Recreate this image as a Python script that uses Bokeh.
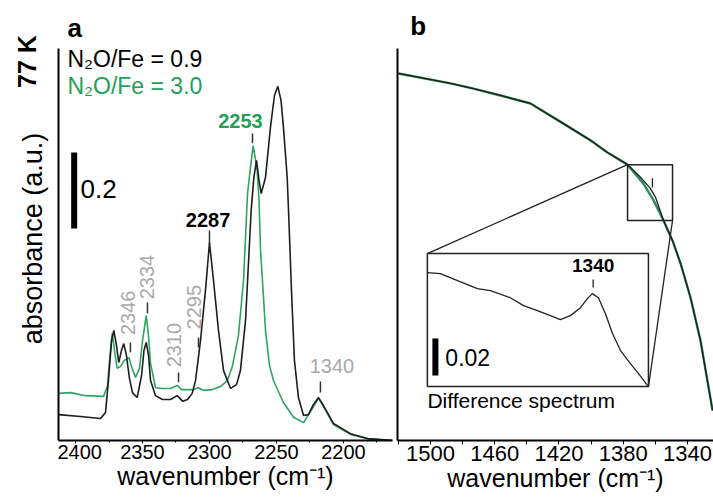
import math
from bokeh.plotting import figure
from bokeh.layouts import row
from bokeh.models import Range1d, Label, FixedTicker
from bokeh.embed import file_html
from bokeh.resources import INLINE

FONT = "Liberation Sans"
BLACK = "#1e1e1e"
GREEN = "#2fa461"
GREEN_TXT = "#22a056"
GRAY_TXT = "#a9a9a9"

# ---------------- panel a data (wavenumber cm-1, absorbance) ----------------
black_wn = [2412.7, 2396.3, 2381.3, 2377.6, 2375.4, 2373.1, 2371.4, 2369.4, 2367.7, 2365.7,
            2364.0, 2362.0, 2359.7, 2357.5, 2354.0, 2350.7, 2348.9, 2347.2, 2345.5, 2344.0,
            2340.3, 2335.1, 2329.1, 2324.1, 2319.9, 2316.4, 2312.9, 2310.4, 2306.7, 2302.8,
            2300.0, 2297.0, 2293.3, 2289.5, 2284.3, 2279.8, 2276.9, 2273.1, 2268.9, 2266.9,
            2264.9, 2263.0, 2261.4, 2258.2, 2254.5, 2251.5, 2249.0, 2246.6, 2244.8, 2242.0,
            2241.0, 2238.8, 2236.6, 2233.6, 2229.8, 2226.1, 2222.4, 2218.6, 2214.9, 2207.5,
            2194.8, 2182.1, 2163.4]
black_abs = [0.068, 0.063, 0.058, 0.074, 0.158, 0.263, 0.290, 0.250, 0.205, 0.237,
             0.255, 0.224, 0.163, 0.126, 0.113, 0.171, 0.237, 0.258, 0.224, 0.158,
             0.118, 0.108, 0.108, 0.118, 0.103, 0.108, 0.124, 0.158, 0.263, 0.403,
             0.521, 0.421, 0.290, 0.184, 0.137, 0.147, 0.184, 0.316, 0.605, 0.692,
             0.737, 0.684, 0.650, 0.692, 0.824, 0.908, 0.932, 0.895, 0.824, 0.692,
             0.605, 0.395, 0.211, 0.113, 0.066, 0.068, 0.095, 0.113, 0.092, 0.045,
             0.018, 0.005, 0.0]

green_wn = [2412.7, 2403.7, 2392.5, 2379.1, 2376.1, 2374.3, 2372.6, 2370.9, 2368.9, 2366.4,
            2363.4, 2360.2, 2357.8, 2355.2, 2352.2, 2350.0, 2347.2, 2345.5, 2344.0, 2340.3,
            2335.3, 2329.1, 2324.1, 2320.9, 2316.7, 2312.0, 2308.2, 2304.5, 2297.8, 2291.8,
            2286.6, 2282.8, 2278.4, 2274.6, 2271.6, 2269.4, 2267.4, 2264.4, 2263.0, 2261.9,
            2260.0, 2258.2, 2255.2, 2252.2, 2244.8, 2237.3, 2229.8, 2224.6, 2218.6, 2214.9,
            2207.5, 2194.8, 2182.1, 2163.4]
green_abs = [0.124, 0.126, 0.118, 0.116, 0.145, 0.224, 0.282, 0.237, 0.190, 0.195,
             0.211, 0.218, 0.190, 0.166, 0.190, 0.263, 0.329, 0.276, 0.203, 0.139,
             0.137, 0.137, 0.145, 0.134, 0.134, 0.134, 0.139, 0.132, 0.134, 0.142,
             0.158, 0.197, 0.276, 0.421, 0.650, 0.719, 0.776, 0.711, 0.632, 0.500,
             0.395, 0.290, 0.197, 0.158, 0.100, 0.061, 0.047, 0.076, 0.111, 0.089,
             0.042, 0.016, 0.005, 0.0]

series_labels = ["N\u2082O/Fe = 0.9", "N\u2082O/Fe = 3.0"]
gray_peak_texts = ["2346", "2334", "2310", "2295"]
a_ticks = [2400, 2350, 2300, 2250, 2200]
a_minor = [2375, 2325, 2275, 2225, 2175]
scale_a = 0.2

# ---------------- panel b data ----------------
b_black_wn = [1519.9, 1487.5, 1473.2, 1456.4, 1437.7, 1417.2, 1400.4, 1389.8, 1377.3, 1368.6,
              1363.0, 1359.9, 1354.9, 1349.3, 1344.3, 1338.1, 1331.9, 1324.4]
b_black_abs = [0.966, 0.940, 0.926, 0.908, 0.887, 0.834, 0.790, 0.758, 0.726, 0.690,
               0.663, 0.640, 0.579, 0.526, 0.466, 0.376, 0.263, 0.079]
b_green_wn = [1519.9, 1487.5, 1473.2, 1456.4, 1437.7, 1417.2, 1400.4, 1389.8, 1377.3, 1367.4,
              1361.1, 1354.9, 1349.3, 1344.3, 1338.1, 1331.9, 1324.4]
b_green_abs = [0.966, 0.940, 0.926, 0.908, 0.887, 0.834, 0.790, 0.758, 0.726, 0.676,
               0.632, 0.579, 0.526, 0.466, 0.376, 0.263, 0.079]
b_ticks = [1500, 1460, 1420, 1380, 1340]
b_minor = [1520, 1480, 1440, 1400, 1360, 1320]

diff_wn = [1400.0, 1395.3, 1389.1, 1381.9, 1377.2, 1370.0, 1365.2, 1360.2, 1355.5, 1351.9,
           1348.2, 1344.6, 1342.1, 1340.3, 1338.1, 1335.6, 1333.0, 1330.1, 1326.5, 1323.6, 1320.0]
diff_abs = [0.0617, 0.0611, 0.0573, 0.0530, 0.0519, 0.0481, 0.0438, 0.0411, 0.0384, 0.0362,
            0.0384, 0.0427, 0.0476, 0.0503, 0.0481, 0.0395, 0.0287, 0.0195, 0.0124, 0.0070, 0.0]
scale_b = 0.02

# ---------------- layout constants ----------------
XA = (2412.7, 2163.4)
XB = (1520.5, 1323.8)
Y_AXIS = (0.0, 1.032)                             # drawn extent of the y axes
YR = (0.0, 1.158)                                 # frame range (room for panel letters)
ZOOM_BOX = (1377.3, 1349.3, 0.579, 0.726)         # main coords of panel b
INSET_MAIN = (1501.9, 1364.3, 0.142, 0.492)       # where the inset sits (main coords)
INSET_WN = (1400.0, 1320.0)
INSET_ABS = (0.0, 0.072)
H = 501
B_BOTTOM = 61
W_STRIP = 57


def lab(p, x, y, text, size, color="black", bold=False, align="center", angle=0.0, **kw):
    p.add_layout(Label(x=x, y=y, text=text, text_font=FONT, text_font_size=size,
                       text_color=color, text_font_style="bold" if bold else "normal",
                       text_align=align, text_baseline="middle", angle=angle, **kw))


def style_common(p, tick_font):
    p.grid.visible = False
    p.outline_line_color = None
    p.background_fill_color = "white"
    p.border_fill_color = "white"
    ax = p.xaxis[0]
    ax.axis_line_width = 2
    ax.axis_line_color = "black"
    ax.major_tick_line_color = "black"
    ax.minor_tick_line_color = "black"
    ax.major_tick_in = 0
    ax.minor_tick_in = 0
    ax.major_label_text_font = FONT
    ax.major_label_text_font_size = tick_font
    ax.major_label_text_color = "black"
    ax.major_label_standoff = 1
    ax.axis_label = "wavenumber (cm\u207b\u00b9)"
    ax.axis_label_text_font = FONT
    ax.axis_label_text_font_size = "25px"
    ax.axis_label_text_font_style = "normal"
    ax.axis_label_text_color = "black"
    ax.axis_label_standoff = 0
    ay = p.yaxis[0]
    ay.ticker = FixedTicker(ticks=[])
    ay.bounds = Y_AXIS
    ay.axis_line_width = 2
    ay.axis_line_color = "black"
    ay.major_tick_out = 0
    ay.major_tick_in = 0
    ay.minor_tick_out = 0
    ay.minor_tick_in = 0
    ay.major_label_standoff = 0


# ================= left strip with the y label =================
H_FRAME = H - B_BOTTOM
ps = figure(width=W_STRIP, height=H, x_range=Range1d(0, W_STRIP), y_range=Range1d(0, H_FRAME),
            x_axis_type=None, y_axis_type=None, output_backend="svg", toolbar_location=None,
            title=None, min_border_left=0, min_border_right=0, min_border_top=0,
            min_border_bottom=B_BOTTOM)
ps.grid.visible = False
ps.outline_line_color = None
lab(ps, 26, H_FRAME - 61, "77 K", "25px", bold=True, angle=math.pi / 2)
lab(ps, 32, H_FRAME - 238, "absorbance (a.u.)", "27px", angle=math.pi / 2)

# ================= panel a =================
pa = figure(width=396 - W_STRIP, height=H, x_range=Range1d(*XA), y_range=Range1d(*YR),
            output_backend="svg", toolbar_location=None, title=None,
            min_border_left=1, min_border_right=4, min_border_top=0, min_border_bottom=B_BOTTOM)
style_common(pa, "20px")
pa.xaxis[0].ticker = FixedTicker(ticks=a_ticks, minor_ticks=a_minor)
pa.xaxis[0].major_tick_out = 3
pa.xaxis[0].minor_tick_out = 2
lab(pa, 2406.0, 1.086, "a", "26px", bold=True, align="left")

pa.line(green_wn, green_abs, line_color=GREEN, line_width=1.6)
pa.line(black_wn, black_abs, line_color=BLACK, line_width=1.6)

# scale bar
pa.segment(x0=[2401.0], y0=[0.558], x1=[2401.0], y1=[0.558 + scale_a],
           line_color="black", line_width=6, line_cap="butt")
lab(pa, 2396.3, 0.661, "0.2", "26px", align="left")

# series labels
lab(pa, 2406.0, 1.005, series_labels[0], "23px", align="left")
lab(pa, 2406.0, 0.932, series_labels[1], "23px", color=GREEN_TXT, align="left")

# peak labels
gray_pos = [(2360.8, 0.336), (2346.6, 0.430), (2326.5, 0.251), (2311.6, 0.351)]
for t, (x, y) in zip(gray_peak_texts, gray_pos):
    lab(pa, x, y, t, "20px", color=GRAY_TXT, angle=math.pi / 2)
lab(pa, 2208.6, 0.196, "1340", "20px", color=GRAY_TXT)
lab(pa, 2276.9, 0.840, "2253", "20px", color=GREEN_TXT, bold=True)
lab(pa, 2301.1, 0.580, "2287", "20px", bold=True)

tick_x = [2359.0, 2346.3, 2323.1, 2308.2, 2217.2, 2267.9, 2300.0]
tick_y0 = [0.232, 0.334, 0.153, 0.245, 0.126, 0.782, 0.518]
tick_y1 = [0.258, 0.363, 0.179, 0.271, 0.155, 0.808, 0.553]
pa.segment(x0=tick_x, y0=tick_y0, x1=tick_x, y1=tick_y1, line_color="#333333", line_width=1.5)

# ================= panel b =================
pb = figure(width=317, height=H, x_range=Range1d(*XB), y_range=Range1d(*YR),
            output_backend="svg", toolbar_location=None, title=None,
            min_border_left=1, min_border_right=0, min_border_top=0, min_border_bottom=B_BOTTOM)
style_common(pb, "22px")
pb.xaxis[0].ticker = FixedTicker(ticks=b_ticks, minor_ticks=b_minor)
pb.xaxis[0].major_tick_out = 4
pb.xaxis[0].minor_tick_out = 4
lab(pb, 1512.5, 1.092, "b", "26px", bold=True, align="left")


def inset_range(r, box, ins):
    k = (ins[1] - ins[0]) / (box[1] - box[0])
    return Range1d(ins[0] + (r[0] - box[0]) * k, ins[0] + (r[1] - box[0]) * k)


pb.extra_x_ranges = {"ins": inset_range(XB, INSET_MAIN[0:2], INSET_WN)}
pb.extra_y_ranges = {"ins": inset_range(YR, INSET_MAIN[2:4], INSET_ABS)}

pb.line(b_green_wn, b_green_abs, line_color="#2e8b57", line_width=2.4)
pb.line(b_black_wn, b_black_abs, line_color=BLACK, line_width=1.3)

# zoom box and connectors
pb.quad(left=[ZOOM_BOX[0]], right=[ZOOM_BOX[1]], bottom=[ZOOM_BOX[2]], top=[ZOOM_BOX[3]],
        fill_color=None, line_color="#222222", line_width=1.5)
pb.segment(x0=[ZOOM_BOX[0], ZOOM_BOX[1]], y0=[ZOOM_BOX[3], ZOOM_BOX[2]],
           x1=[INSET_MAIN[0], INSET_MAIN[1]], y1=[INSET_MAIN[3], INSET_MAIN[2]],
           line_color="#222222", line_width=1.3)
pb.segment(x0=[1361.8], y0=[0.666], x1=[1361.8], y1=[0.690], line_color="#222222", line_width=1.3)

# inset
pb.quad(left=[INSET_WN[0]], right=[INSET_WN[1]], bottom=[INSET_ABS[0]], top=[INSET_ABS[1]],
        fill_color=None, line_color="#222222", line_width=1.5,
        x_range_name="ins", y_range_name="ins")
pb.line(diff_wn, diff_abs, line_color="#222222", line_width=1.3,
        x_range_name="ins", y_range_name="ins")
pb.segment(x0=[1340.0], y0=[0.0536], x1=[1340.0], y1=[0.0579], line_color="#222222",
           line_width=1.3, x_range_name="ins", y_range_name="ins")
pb.segment(x0=[1397.1], y0=[0.006], x1=[1397.1], y1=[0.006 + scale_b], line_color="black",
           line_width=6, line_cap="butt", x_range_name="ins", y_range_name="ins")
lab(pb, 1340.0, 0.0655, "1340", "19px", bold=True, x_range_name="ins", y_range_name="ins")
lab(pb, 1393.5, 0.0157, "0.02", "23px", align="left", x_range_name="ins", y_range_name="ins")
lab(pb, 1400.0, -0.0076, "Difference spectrum", "21px", align="left",
    x_range_name="ins", y_range_name="ins")

layout = row(ps, pa, pb)
open("out.html", "w").write(file_html(layout, INLINE))
